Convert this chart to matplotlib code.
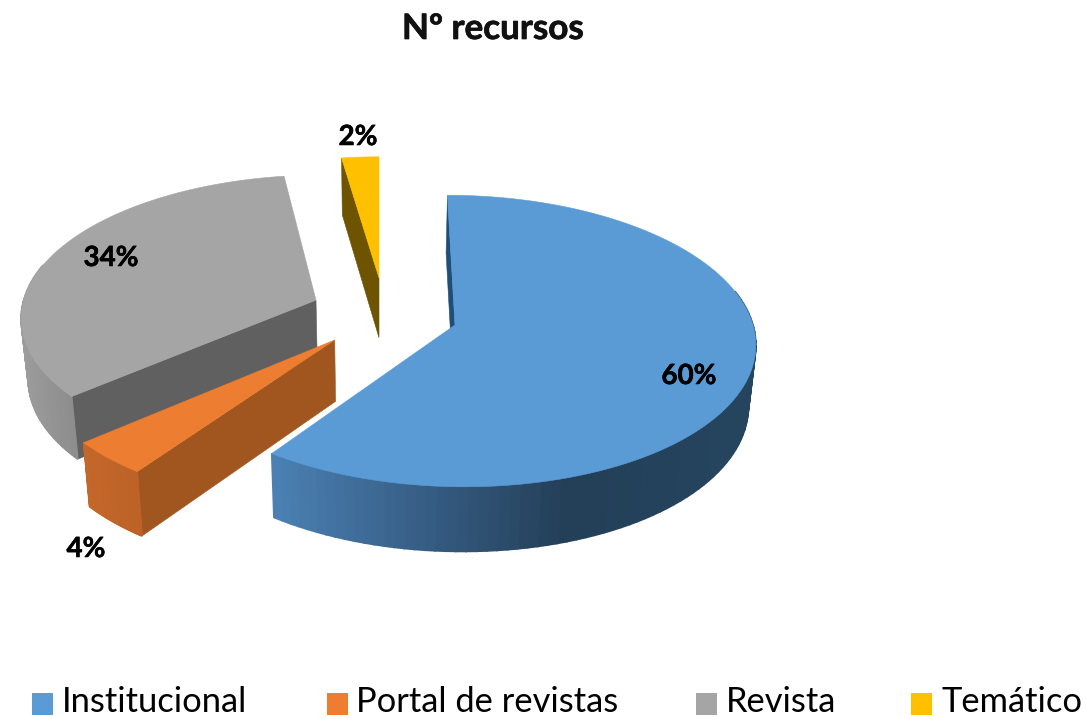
import numpy as np
import matplotlib
matplotlib.use("Agg")
import matplotlib.pyplot as plt
import matplotlib.patheffects as pe
from matplotlib.patches import Polygon, Rectangle
from matplotlib.colors import to_rgb

title = "Nº recursos"
categories = ["Institucional", "Portal de revistas", "Revista", "Temático"]
values = [59.9, 3.9, 33.9, 2.3]
labels = ["60%", "4%", "34%", "2%"]

top_colors = ["#5B9BD5", "#ED7D31", "#A5A5A5", "#FFC000"]
cut_colors = ["#1F4E79", "#A0561E", "#606060", "#6E5300"]
wall_ramps = [[(270, "#4C82B6"), (430, "#365D84"), (570, "#243F58"), (760, "#25455F")],
              [(80, "#C4672A"), (140, "#BC6228")],
              [(20, "#9C9C9C"), (75, "#8C8C8C")],
              [(340, "#6E5300"), (380, "#6E5300")]]
offsets = [(0.255, 0.0), (-0.147, 0.103), (-0.2155, -0.176), (0.0, -0.34)]
label_pos = [(689, 376), (86, 549), (111, 258), (358, 137)]
legend_box_x = [32, 327, 696, 911]
legend_text_x = [62, 356, 726, 942]

XVP, YC, A, B, K = 379.0, 325.0, 298.0, 144.0, 0.11
T, FX = 61.0, 0.98


def project(X, V):
    s = 1.0 / (1.0 - K * V)
    return XVP + A * X * s, YC + B * V * s, s


def bottom(sx, sy, s):
    return XVP + (sx - XVP) * FX, sy + T * np.sqrt(s)


def ramp_color(ramp, x):
    xs = [r[0] for r in ramp]
    cs = np.array([to_rgb(r[1]) for r in ramp])
    return tuple(np.interp(x, xs, cs[:, i]) for i in range(3))


fig = plt.figure(figsize=(10.86, 7.19), dpi=100)
ax = fig.add_axes([0, 0, 1, 1])
ax.set_xlim(0, 1086)
ax.set_ylim(719, 0)
ax.axis("off")

fracs = np.array(values, dtype=float) / sum(values) * 360
ends = np.cumsum(fracs)
starts = ends - fracs

for order, idx in enumerate([2, 3, 1, 0]):
    a0, a1 = np.radians(starts[idx]), np.radians(ends[idx])
    ox, ov = offsets[idx]
    t = np.linspace(a0, a1, 120)
    ax_x, ax_y, ax_s = project(ox, ov)
    ex, ey, es = project(ox + np.sin(t), ov - np.cos(t))
    bx, by = bottom(ex, ey, es)
    abx, aby = bottom(ax_x, ax_y, ax_s)
    z = order * 2 + 1

    # face cut along the slice's starting radius, seen by the viewer
    ax.add_patch(Polygon([(ex[0], ey[0]), (bx[0], by[0]), (abx, aby), (ax_x, ax_y)],
                         closed=True, fc=cut_colors[idx], ec=cut_colors[idx], lw=0.4, zorder=z))

    # outer wall
    for i in range(len(t) - 1):
        if np.cos(t[i]) > 0.25:
            continue
        c = ramp_color(wall_ramps[idx], ex[i])
        ax.add_patch(Polygon([(ex[i], ey[i]), (ex[i + 1], ey[i + 1]), (bx[i + 1], by[i + 1]), (bx[i], by[i])],
                             closed=True, fc=c, ec=c, lw=1.2, zorder=z))

    # top face
    pts = [(ax_x, ax_y)] + list(zip(ex, ey))
    ax.add_patch(Polygon(pts, closed=True, fc=top_colors[idx], ec=top_colors[idx], lw=0.4, zorder=z + 1))

ax.text(493, 29, title, ha="center", va="center", fontsize=25.2, fontweight="bold",
        family="Lato", color="#111111",
        path_effects=[pe.withStroke(linewidth=0.5, foreground="#111111")])

for (x, y), lab in zip(label_pos, labels):
    ax.text(x, y, lab, ha="center", va="center", fontsize=20, fontweight="bold",
            family="Lato", color="black", zorder=20,
            path_effects=[pe.withStroke(linewidth=0.4, foreground="black")])

for bx0, tx, name, col in zip(legend_box_x, legend_text_x, categories, top_colors):
    ax.add_patch(Rectangle((bx0, 693), 21, 22, fc=col, ec="none"))
    ax.text(tx, 702, name, ha="left", va="center", fontsize=24.8, family="Lato", color="black")

fig.savefig("out.png", dpi=100, facecolor="white")
